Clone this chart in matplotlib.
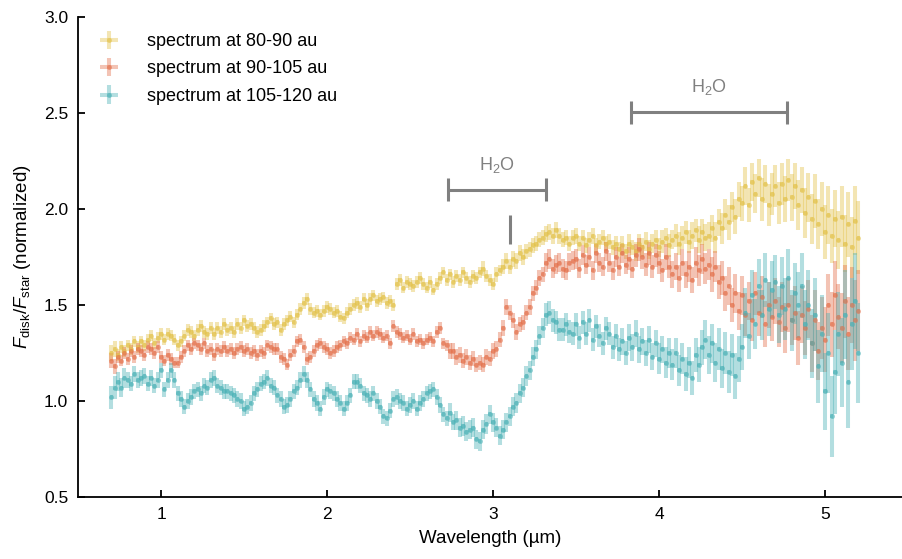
import numpy as np
import matplotlib
matplotlib.use("Agg")
import matplotlib.pyplot as plt
from matplotlib.colors import to_rgba

plt.rcParams['font.family'] = ['Liberation Sans', 'DejaVu Sans']
plt.rcParams['mathtext.fontset'] = 'custom'
plt.rcParams['mathtext.rm'] = 'Liberation Sans'
plt.rcParams['mathtext.it'] = 'Liberation Sans:italic'
plt.rcParams['mathtext.bf'] = 'Liberation Sans:bold'

# wavelength grid (micron), 0.02 um bins from 0.70 to 5.20
wavelength = np.round(np.arange(0.70, 5.2001, 0.02), 2)
bin_halfwidth = 0.01

labels = ["spectrum at 80-90 au", "spectrum at 90-105 au", "spectrum at 105-120 au"]
colors = ["#E3C24A", "#E4714C", "#4AB1B6"]

flux_80_90 = [
    1.25,1.27,1.24,1.28,1.26,1.29,1.27,1.31,1.28,1.31,
    1.29,1.32,1.34,1.30,1.33,1.35,1.32,1.35,1.34,1.32,
    1.29,1.31,1.34,1.37,1.36,1.34,1.37,1.39,1.36,1.35,
    1.38,1.35,1.38,1.36,1.40,1.37,1.38,1.36,1.40,1.38,
    1.42,1.39,1.40,1.38,1.36,1.37,1.39,1.41,1.43,1.40,
    1.41,1.37,1.40,1.42,1.44,1.41,1.45,1.48,1.51,1.53,
    1.48,1.46,1.47,1.45,1.47,1.49,1.48,1.46,1.47,1.44,
    1.43,1.46,1.48,1.50,1.51,1.49,1.53,1.50,1.53,1.55,
    1.52,1.53,1.54,1.51,1.52,1.50,1.61,1.63,1.59,1.62,
    1.61,1.60,1.62,1.64,1.61,1.59,1.62,1.58,1.61,1.64,
    1.67,1.63,1.66,1.62,1.65,1.63,1.67,1.64,1.62,1.65,
    1.64,1.67,1.69,1.65,1.63,1.61,1.66,1.68,1.70,1.73,
    1.70,1.74,1.73,1.77,1.75,1.78,1.79,1.81,1.82,1.84,
    1.85,1.87,1.88,1.86,1.89,1.86,1.84,1.85,1.82,1.85,
    1.86,1.82,1.85,1.81,1.84,1.86,1.81,1.83,1.85,1.82,
    1.83,1.80,1.82,1.79,1.81,1.78,1.82,1.80,1.78,1.82,
    1.80,1.83,1.79,1.82,1.84,1.80,1.83,1.85,1.81,1.84,
    1.86,1.82,1.85,1.88,1.83,1.86,1.89,1.84,1.88,1.85,
    1.86,1.90,1.85,1.93,1.90,1.97,1.93,2.01,1.96,2.05,
    2.03,2.12,2.02,2.14,2.08,2.16,2.05,2.13,2.02,2.08,
    2.12,2.03,2.13,2.05,2.15,2.06,2.12,2.02,2.10,1.98,
    2.06,1.95,2.04,1.92,2.00,1.88,1.97,1.86,1.95,1.84,
    1.96,1.82,1.92,1.80,1.94,1.85,
]
err_80_90 = [
    4,4,3,3,3,3,3,3,3,3,
    3,3,3,3,3,3,3,3,3,3,
    3,3,3,3,3,3,3,3,3,3,
    3,3,3,3,3,3,3,3,3,3,
    3,3,3,3,3,3,3,3,3,3,
    3,3,3,3,3,3,3,3,3,3,
    3,3,3,3,3,3,3,3,3,3,
    3,3,3,3,3,3,3,3,3,3,
    3,3,3,3,3,3,3,3,3,3,
    3,3,3,3,3,3,3,3,3,3,
    3,3,3,3,3,3,3,3,3,3,
    3,3,4,3,3,3,4,3,4,4,
    4,4,4,4,4,4,4,4,4,4,
    4,4,4,4,4,4,4,4,4,4,
    4,4,4,4,4,4,4,4,4,4,
    4,4,4,4,5,4,5,4,5,5,
    5,5,5,5,5,5,6,5,6,5,
    6,6,6,6,6,7,6,7,7,7,
    7,7,8,7,8,8,9,8,9,9,
    9,10,9,10,10,10,11,10,11,11,
    11,11,11,12,11,12,12,13,12,13,
    13,13,14,13,14,14,15,14,15,15,
    16,15,17,16,18,19,
]

flux_90_105 = [
    1.21,1.18,1.23,1.21,1.25,1.22,1.26,1.23,1.27,1.26,
    1.24,1.28,1.27,1.25,1.28,1.23,1.21,1.24,1.22,1.20,
    1.20,1.23,1.26,1.29,1.27,1.30,1.29,1.27,1.30,1.26,
    1.27,1.24,1.27,1.26,1.28,1.26,1.27,1.25,1.27,1.28,
    1.26,1.27,1.25,1.26,1.24,1.26,1.25,1.29,1.28,1.27,
    1.27,1.23,1.22,1.19,1.24,1.26,1.31,1.32,1.28,1.22,
    1.23,1.26,1.29,1.30,1.28,1.27,1.25,1.26,1.28,1.29,
    1.31,1.30,1.33,1.32,1.35,1.31,1.34,1.33,1.36,1.34,
    1.36,1.35,1.33,1.34,1.30,1.39,1.36,1.35,1.33,1.34,
    1.32,1.35,1.31,1.32,1.30,1.32,1.33,1.31,1.36,1.38,
    1.30,1.29,1.26,1.26,1.23,1.24,1.21,1.23,1.20,1.22,
    1.19,1.20,1.19,1.23,1.22,1.26,1.27,1.32,1.38,1.49,
    1.46,1.42,1.36,1.40,1.41,1.46,1.49,1.56,1.59,1.64,
    1.66,1.72,1.74,1.69,1.71,1.72,1.69,1.68,1.72,1.73,
    1.74,1.69,1.76,1.71,1.75,1.68,1.77,1.72,1.70,1.78,
    1.72,1.68,1.75,1.70,1.77,1.71,1.74,1.69,1.76,1.79,
    1.75,1.71,1.77,1.70,1.76,1.72,1.68,1.75,1.70,1.66,
    1.70,1.64,1.72,1.66,1.70,1.63,1.72,1.68,1.74,1.69,
    1.71,1.66,1.70,1.62,1.64,1.56,1.60,1.50,1.56,1.47,
    1.55,1.45,1.52,1.42,1.56,1.46,1.54,1.40,1.50,1.44,
    1.52,1.41,1.49,1.38,1.50,1.42,1.46,1.33,1.45,1.38,
    1.48,1.30,1.42,1.26,1.38,1.32,1.50,1.40,1.55,1.44,
    1.38,1.52,1.35,1.50,1.42,1.47,
]
err_90_105 = [
    4,4,3,3,3,3,3,3,3,3,
    3,3,3,3,3,3,3,3,3,3,
    3,3,3,3,3,3,3,3,3,3,
    3,3,3,3,3,3,3,3,3,3,
    3,3,3,3,3,3,3,3,3,3,
    3,3,3,3,3,3,3,3,3,3,
    3,3,3,3,3,3,3,3,3,3,
    3,3,3,3,3,3,3,3,3,3,
    3,3,3,3,3,3,3,3,3,3,
    3,3,3,3,3,3,3,3,3,3,
    3,3,4,4,4,4,4,4,4,4,
    4,4,4,4,4,4,4,4,4,4,
    4,4,4,4,4,4,4,4,4,4,
    4,5,5,5,5,5,5,5,5,5,
    5,5,5,5,5,5,5,5,5,5,
    5,5,5,5,5,5,6,5,6,6,
    6,6,6,6,6,6,6,7,6,7,
    7,7,7,7,8,7,8,8,8,8,
    8,9,8,9,9,9,10,9,10,10,
    10,11,10,11,11,12,11,12,12,13,
    12,13,13,13,14,13,14,14,15,14,
    15,15,16,15,16,17,16,17,18,17,
    18,19,19,20,21,21,
]

flux_105_120 = [
    1.02,1.07,1.10,1.07,1.12,1.11,1.09,1.14,1.11,1.12,
    1.13,1.09,1.12,1.08,1.11,1.16,1.06,1.11,1.16,1.11,
    1.04,1.01,0.97,1.00,1.02,1.05,1.06,1.04,1.08,1.07,
    1.11,1.12,1.08,1.07,1.05,1.05,1.04,1.03,1.01,1.00,
    0.96,0.97,0.99,1.04,1.06,1.09,1.10,1.12,1.08,1.07,
    1.03,1.01,0.97,0.98,1.01,1.05,1.07,1.11,1.14,1.11,
    1.06,1.01,0.99,0.96,1.02,1.06,1.05,1.04,1.01,0.99,
    0.96,0.99,1.03,1.10,1.10,1.08,1.04,1.03,1.01,1.04,
    1.00,0.97,0.92,0.91,0.95,1.01,1.02,1.00,0.99,0.96,
    0.98,1.00,0.96,0.99,1.01,1.04,1.05,1.06,1.02,0.98,
    0.93,0.91,0.94,0.89,0.90,0.86,0.87,0.84,0.85,0.86,
    0.80,0.79,0.85,0.88,0.93,0.89,0.86,0.82,0.85,0.89,
    0.92,0.97,0.99,1.04,1.07,1.13,1.16,1.23,1.27,1.34,
    1.38,1.45,1.46,1.42,1.41,1.37,1.37,1.40,1.36,1.35,
    1.40,1.33,1.41,1.35,1.42,1.32,1.39,1.34,1.30,1.38,
    1.35,1.28,1.34,1.27,1.31,1.25,1.33,1.28,1.35,1.27,
    1.31,1.25,1.32,1.23,1.30,1.22,1.27,1.20,1.25,1.19,
    1.25,1.16,1.22,1.14,1.20,1.12,1.24,1.19,1.28,1.32,
    1.24,1.30,1.20,1.27,1.17,1.25,1.15,1.24,1.13,1.22,
    1.28,1.46,1.34,1.55,1.40,1.60,1.45,1.63,1.48,1.58,
    1.62,1.45,1.60,1.48,1.64,1.42,1.56,1.50,1.60,1.40,
    1.50,1.30,1.45,1.18,1.35,1.05,1.25,0.92,1.15,1.35,
    1.20,1.45,1.10,1.40,1.52,1.25,
]
err_105_120 = [
    6,6,5,5,5,4,4,4,4,4,
    4,4,4,4,4,4,4,4,4,4,
    4,4,4,4,4,4,4,4,4,4,
    4,4,4,4,4,4,4,4,4,4,
    4,4,4,4,4,4,4,4,4,4,
    4,4,4,4,4,4,4,4,4,4,
    4,4,4,4,4,4,4,4,4,4,
    4,4,4,4,4,4,4,4,4,4,
    4,4,4,4,4,4,4,4,4,4,
    4,4,4,4,4,4,4,4,4,4,
    4,4,5,4,5,5,5,5,5,5,
    5,5,5,5,5,5,5,5,5,5,
    5,5,5,5,5,5,5,5,5,5,
    5,6,6,6,6,6,6,6,6,6,
    6,6,6,6,6,6,6,6,6,6,
    6,6,6,6,7,6,7,7,7,7,
    7,7,7,7,7,8,7,8,8,8,
    8,8,8,9,8,9,9,9,9,10,
    10,10,10,11,10,11,11,11,12,12,
    12,13,12,13,13,14,13,14,14,15,
    14,15,15,16,15,16,16,17,17,18,
    18,18,19,19,20,20,21,21,22,22,
    23,23,24,24,25,26,
]

fluxes = [flux_80_90, flux_90_105, flux_105_120]
errors = [err_80_90, err_90_105, err_105_120]

# H2O absorption band markers
h2o_bands = [(2.73, 3.32), (3.83, 4.77)]
h2o_levels = [2.10, 2.505]
h2o_label_y = [2.23, 2.635]
feature_line_x = 3.10
feature_line_y = (1.82, 1.97)

fig = plt.figure(figsize=(9.03, 5.59), dpi=100)
ax = fig.add_axes([0.0864, 0.1109, 0.9136, 0.8587])

for flux, err, col, lab in zip(fluxes, errors, colors, labels):
    ax.errorbar(wavelength, flux, yerr=np.array(err) / 100.0, xerr=bin_halfwidth,
                fmt='o', ms=3.6, mec='none', mfc=to_rgba(col, 0.55),
                ecolor=to_rgba(col, 0.42), elinewidth=2.9, capsize=0, label=lab)

grey = "#808080"
for (x0, x1), yl, ty in zip(h2o_bands, h2o_levels, h2o_label_y):
    ax.hlines(yl, x0, x1, color=grey, lw=2.2)
    ax.vlines([x0, x1], yl - 0.06, yl + 0.06, color=grey, lw=2.2)
    ax.text((x0 + x1) / 2, ty, r"H$_2$O", color=grey, fontsize=13,
            ha='center', va='center')
ax.vlines(feature_line_x, feature_line_y[0], feature_line_y[1], color=grey, lw=2.2)

ax.set_xlim(0.5, 5.47)
ax.set_ylim(0.5, 3.0)
ax.set_xticks([1, 2, 3, 4, 5])
ax.set_yticks([0.5, 1.0, 1.5, 2.0, 2.5, 3.0])
ax.set_yticklabels(["0.5", "1.0", "1.5", "2.0", "2.5", "3.0"])
ax.spines['top'].set_visible(False)
ax.spines['right'].set_visible(False)
for s in ('left', 'bottom'):
    ax.spines[s].set_linewidth(1.3)
ax.tick_params(direction='in', length=5, width=1.3, labelsize=12.5, pad=7)

ax.set_xlabel("Wavelength (µm)", fontsize=13.5, labelpad=6)
ax.set_ylabel(r"$F_{\rm disk}/F_{\rm star}$ (normalized)", fontsize=13.5, labelpad=8)

leg = ax.legend(loc='upper left', bbox_to_anchor=(0.0, 0.997), frameon=False,
                fontsize=13, labelspacing=0.58, handletextpad=1.2, borderaxespad=0.4,
                handlelength=1.8)
for h in leg.legend_handles:
    for child in h.get_children():
        if hasattr(child, 'set_linewidth'):
            child.set_linewidth(1.8)

fig.savefig("out.png", dpi=100)
